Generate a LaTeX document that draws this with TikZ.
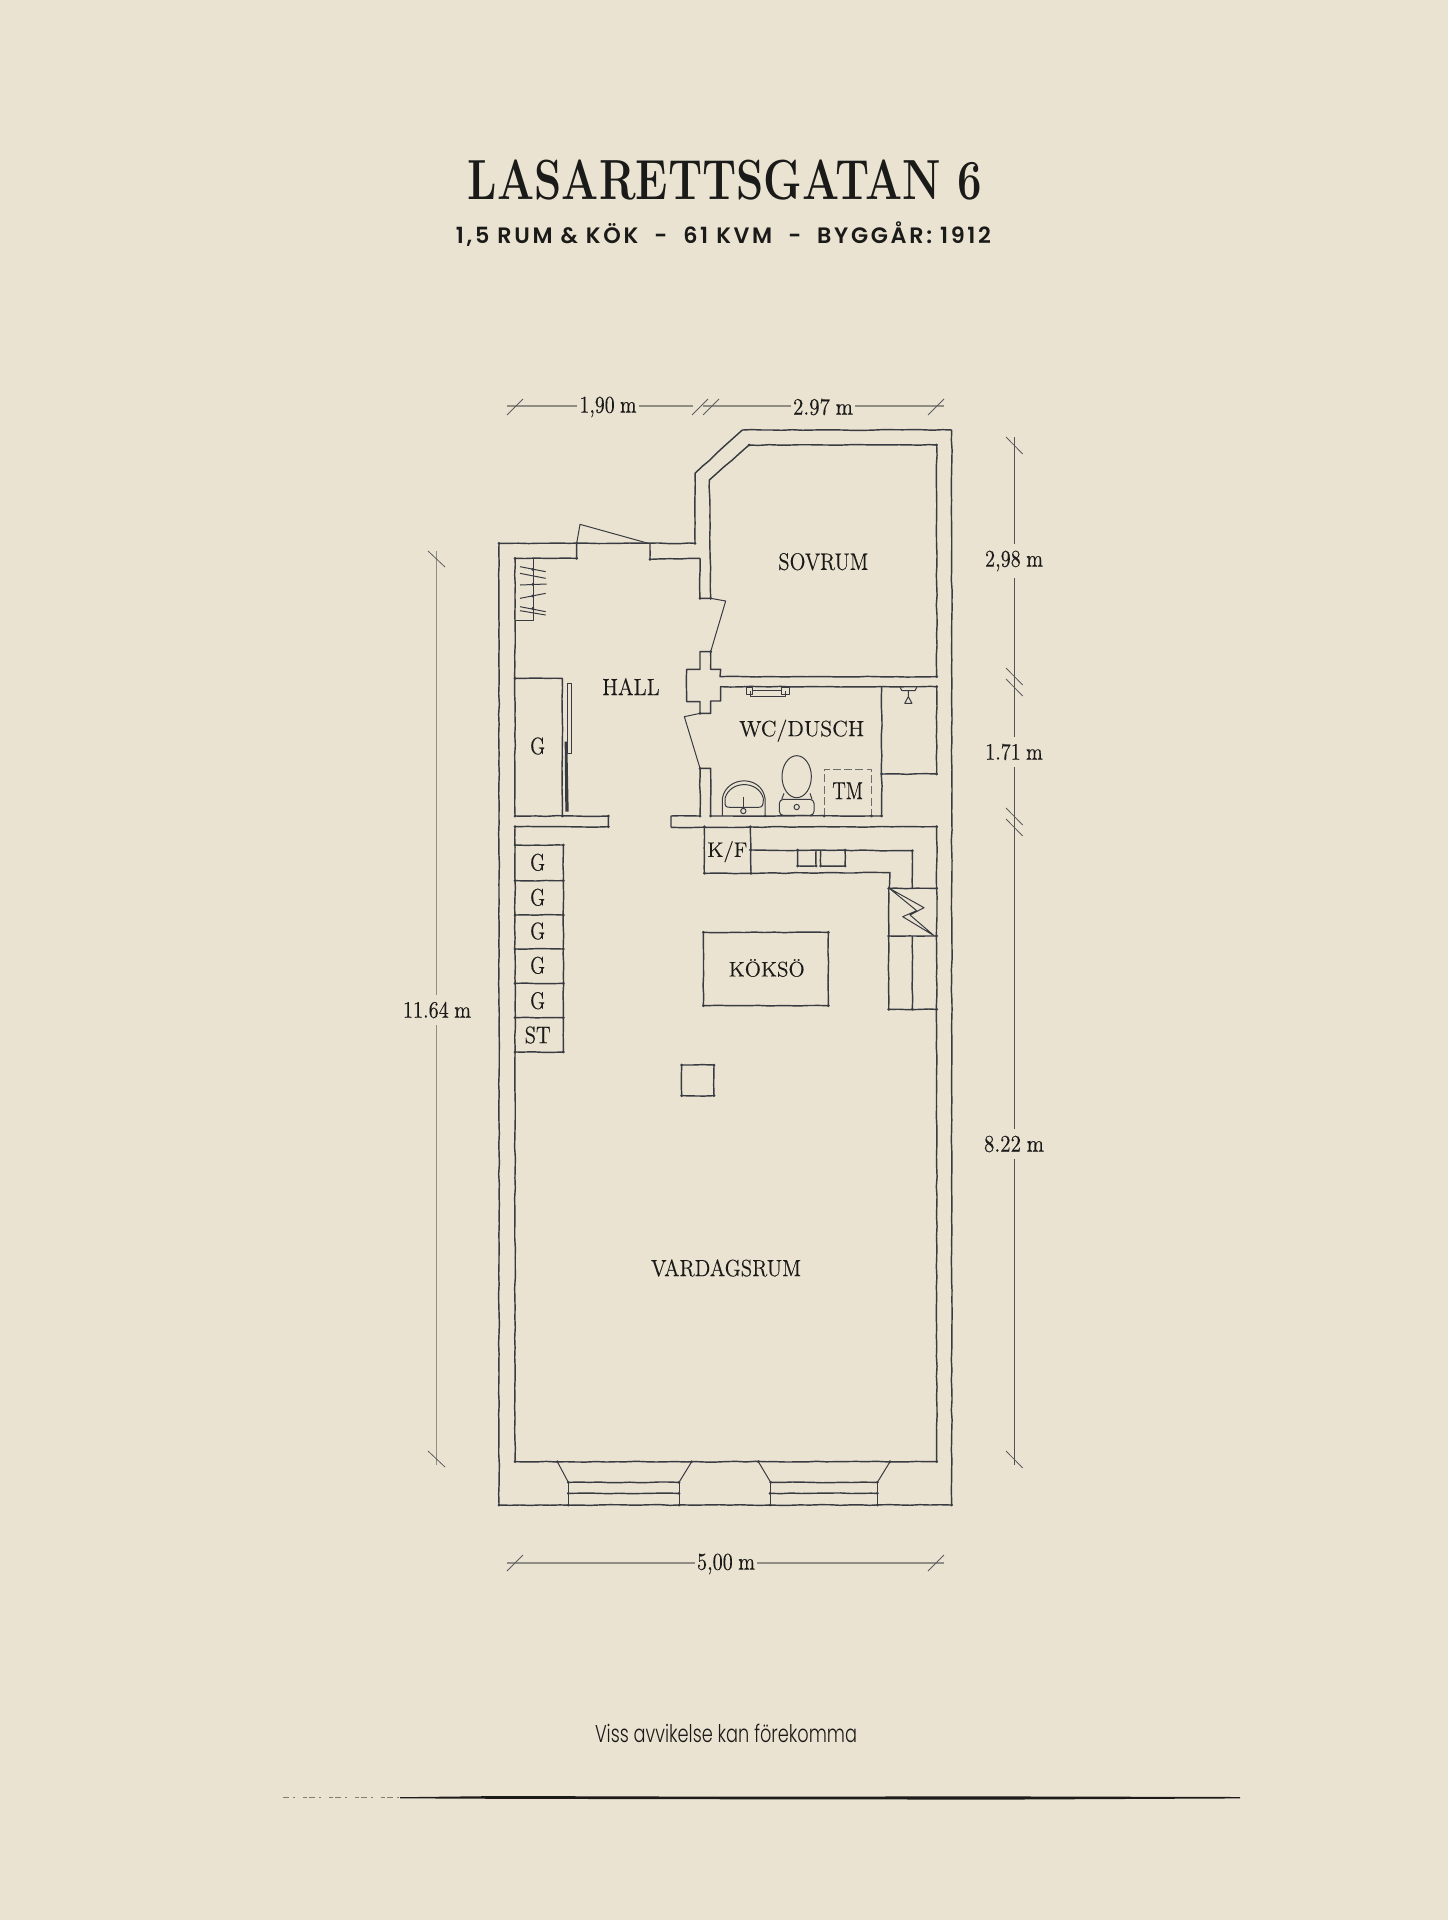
\documentclass[tikz,border=0pt]{standalone}
\usepackage{fontspec}
\usepackage{graphicx}
\usetikzlibrary{decorations.pathmorphing}
\setmainfont[FakeBold=0.25]{Latin Modern Roman}
\newfontfamily\titlef{Latin Modern Roman}
\newfontfamily\subf[LetterSpace=12]{Poppins SemiBold}
\newfontfamily\footf{Poppins Light}
\definecolor{paper}{HTML}{EBE3D2}
\definecolor{ink}{HTML}{383B42}
\definecolor{txt}{HTML}{1A1A18}
\definecolor{dimc}{HTML}{908D84}
\pgfmathsetseed{1912}
\tikzset{
  z1/.style={shift={(480,400)},x=0.166667pt,y=-0.166667pt},
  z2/.style={shift={(480,800)},x=0.166667pt,y=-0.166667pt},
  z3/.style={shift={(480,1420)},x=0.166667pt,y=-0.166667pt},
  wall/.style={draw=ink,line width=0.72pt,line join=round,decorate,decoration={random steps,segment length=5pt,amplitude=0.2pt,pre length=0.5pt,post length=0.5pt}},
  fine/.style={draw=ink,line width=0.5pt,line join=round},
  dimline/.style={draw=dimc,line width=0.6pt},
  dimdark/.style={draw=ink!85!paper,line width=0.45pt},
  tick/.style={draw=ink!80!paper,line width=0.4pt},
  room/.style={text=txt,inner sep=0pt,font=\fontsize{11.6pt}{12pt}\selectfont},
  dimtext/.style={text=txt,inner xsep=1.2pt,inner ysep=3.5pt,fill=paper,font=\fontsize{11pt}{12pt}\selectfont},
}
\newcommand{\pts}[1]{\foreach \p in {#1}{\fill[ink] \p circle[radius=0.75pt];}}
\newcommand{\rl}[2]{\resizebox{#1pt}{8.4pt}{#2}}
\newcommand{\dl}[2]{\resizebox{#1pt}{8pt}{#2}}
\begin{document}
\begin{tikzpicture}[x=0.5pt,y=-0.5pt]
\useasboundingbox (0,0) rectangle (1448,1920);
\fill[paper] (0,0) rectangle (1448,1920);
% heading
\node[text=txt,inner sep=0pt,anchor=base] (title) at (725,200) {\resizebox{257pt}{19.8pt}{\titlef\bfseries\fontsize{28.5pt}{30pt}\selectfont LASARETTSGATAN 6}};
\node[text=txt,inner sep=0pt,anchor=base] (subtitle) at (723.5,244) {\resizebox{267.5pt}{!}{\subf\fontsize{11pt}{12pt}\selectfont 1,5 RUM \& KÖK\ \ -\ \ 61 KVM\ \ -\ \ BYGGÅR: 1912}};
\node[text=txt,inner sep=0pt,anchor=base] (footer) at (726,1742) {\resizebox{131pt}{9.2pt}{\footf\fontsize{11pt}{12pt}\selectfont Viss avvikelse kan förekomma}};
% rule
\fill[black!88!paper] (400,1797.2) -- (500,1796) -- (700,1796.6) -- (1000,1796.4) -- (1240,1797) -- (1240,1798.4) -- (1000,1799.6) -- (700,1799.2) -- (500,1798.8) -- (400,1798.3) -- cycle;
\draw[black!45!paper,line width=0.5pt,dash pattern=on 3pt off 2pt on 1pt off 4pt on 2pt off 1pt] (283,1797.5) -- (400,1797.5);
% dimensions
\draw[dimline] (507,406) -- (693,406);
\draw[dimline] (703,406) -- (944,406);
\draw[dimline] (507,1563) -- (944,1563);
\draw[dimline] (436.7,551) -- (436.7,1465);
\draw[dimdark] (1014.3,437) -- (1014.3,1465);
\foreach \x in {507,692,703,928}{\draw[tick] (\x,415) -- (\x+16,399);}
\foreach \x in {507,928}{\draw[tick] (\x,1571) -- (\x+16,1555);}
\foreach \y in {551,1451}{\draw[tick] (428,\y) -- (445,\y+16);}
\foreach \y in {437,668,679,808,819,1451}{\draw[tick] (1006,\y) -- (1022.7,\y+17);}
\node[dimtext] (d190) at (608,407) {\dl{28.5}{1,90\kern3pt m}};
\node[dimtext] (d297) at (823,407) {\dl{30}{2.97\kern3pt m}};
\node[dimtext] (d500) at (726,1564) {\dl{29}{5,00\kern3pt m}};
\node[dimtext] (d1164) at (437,1010) {\dl{34}{11.64\kern3pt m}};
\node[dimtext] (d298) at (1014,561) {\dl{29}{2,98\kern3pt m}};
\node[dimtext] (d171) at (1014,752) {\dl{28.7}{1.71\kern3pt m}};
\node[dimtext] (d822) at (1014,1144) {\dl{30}{8.22\kern3pt m}};
% upper part
\begin{scope}[z1]
\draw[wall] (57,3315) -- (57,430) -- (645,430) -- (645,220) -- (787,90) -- (1415,90) -- (1415,3315);
\draw[wall] (105,1248) -- (105,475) -- (290,475) -- (290,430);
\draw[wall] (510,430) -- (510,478) -- (660,475) -- (660,595) -- (692,595);
\draw[wall] (692,755) -- (660,755) -- (660,808) -- (620,808) -- (620,905) -- (660,905) -- (660,940) -- (692,940) -- (692,903) -- (722,903) -- (722,860) -- (1370,860) -- (1370,1122) -- (1205,1122);
\draw[wall] (692,595) -- (688,240) -- (807,135) -- (1370,135) -- (1370,830) -- (720,830) -- (722,808) -- (692,808) -- (692,755);
\draw[fine] (692,595) -- (737,603) -- (692,755);
\draw[fine] (660,940) -- (613,950) -- (660,1105);
\draw[wall] (660,1248) -- (660,1105) -- (692,1105) -- (692,1248) -- (1205,1248) -- (1205,860);
\draw[wall] (660,1248) -- (573,1248) -- (573,1282);
\draw[fine] (290,430) -- (300,373) -- (505,430);
% wardrobe
\draw[wall] (105,835) -- (247,835) -- (247,1248);
\draw[wall] (105,1248) -- (385,1248) -- (385,1280) -- (105,1280);
\draw[fine] (262,850) -- (262,1060) -- (275,1060) -- (275,850) -- cycle;
\fill[ink] (254,1025) -- (262,1025) -- (266,1235) -- (256,1235) -- cycle;
% shelf
\draw[fine] (160,475) -- (160,662) -- (105,662);
\draw[fine] (120,500) -- (197,515) (120,520) -- (197,535) (120,555) -- (200,552) (120,595) -- (197,580) (120,620) -- (197,635) (120,632) -- (197,645);
% bathroom fixtures
\draw[fine] (800,862) rectangle (818,882) (905,862) rectangle (928,882) (810,872) -- (810,888) -- (915,888) -- (915,872) (818,870) -- (905,870);
\draw[fine] (1260,862) -- (1266,872) -- (1305,872) -- (1310,862) (1285,872) -- (1285,890);
\draw[fine] (1285,890) -- (1274,910) -- (1296,910) -- cycle;
\draw[fine] (727,1248) -- (727,1195) .. controls (740,1125) and (845,1125) .. (855,1195) -- (855,1248);
\draw[fine] (735,1195) .. controls (750,1140) and (835,1140) .. (850,1195);
\draw[fine] (735,1195) -- (735,1212) .. controls (736,1222) and (745,1222) .. (750,1222) -- (835,1222) .. controls (848,1222) and (850,1215) .. (850,1195);
\draw[fine] (790,1190) -- (790,1225);
\draw[fine] (790,1233) circle[radius=8];
\draw[fine] (950,1130) ellipse[x radius=44,y radius=63];
\draw[fine] (912,1180) -- (905,1198) (990,1180) -- (996,1198);
\draw[fine,rounded corners=2pt] (898,1198) rectangle (1002,1246);
\draw[fine] (950,1221) circle[radius=8];
\draw[fine,draw=ink!70!paper,dash pattern=on 4pt off 1.6pt] (1032,1248) -- (1032,1107) -- (1175,1107) -- (1175,1248);
\pts{(57,430),(290,430),(290,475),(105,475),(645,430),(510,478),(660,595),(692,595),(692,755),(1370,135),(807,135),(1370,830),(1370,860),(1370,1122),(1205,1122),(105,835),(105,1248),(247,1248),(385,1280),(385,1248),(660,1105),(660,1248),(692,1248),(855,1248),(1032,1248),(1175,1248),(1205,1248),(158,508),(158,553),(158,588),(158,625),(660,940)}
\node[room] (hall) at (453,860) {\rl{28.7}{HALL}};
\node[room] (sovrum) at (1030,485) {\rl{45}{SOVRUM}};
\node[room] (wc) at (965,992) {\resizebox{62.5pt}{!}{WC/DUSCH}};
\node[room] (tm) at (1103,1172) {\rl{15.4}{TM}};
\node[room] (gbig) at (173,1038) {\rl{7.5}{G}};
\end{scope}
% kitchen part
\begin{scope}[z2]
\draw[wall] (573,82) -- (1370,80) -- (1370,1985);
\draw[wall] (105,80) -- (105,1985);
\draw[wall] (673,80) -- (673,220) -- (1230,218) -- (1228,265);
\draw[wall] (811,80) -- (813,220);
\draw[wall] (811,150) -- (1297,152) -- (1297,265);
\draw[wall] (953,150) -- (953,198) -- (1008,198) -- (1008,150);
\draw[wall] (1022,150) -- (1022,198) -- (1095,198) -- (1095,150);
\draw[wall] (1370,265) -- (1226,265) -- (1226,628) -- (1370,628);
\draw[wall] (1226,408) -- (1370,408);
\draw[wall] (1297,408) -- (1297,628);
\draw[fine] (1228,265) -- (1332,323) -- (1290,345) -- (1362,407) -- (1268,350) -- (1310,332) -- cycle;
\draw[wall] (670,397) -- (1045,397) -- (1045,617) -- (670,617) -- cycle;
\draw[wall] (105,135) -- (250,135) -- (250,756) -- (105,756);
\foreach \y in {242,345,447,550,653}{\draw[wall] (105,\y) -- (250,\y);}
\draw[wall] (605,795) -- (702,795) -- (702,887) -- (605,887) -- cycle;
\pts{(105,80),(673,80),(811,80),(1370,80),(811,150),(673,220),(813,220),(1297,152),(1226,265),(1370,265),(1226,408),(1370,408),(1226,628),(1297,628),(1370,628),(670,397),(1045,397),(1045,617),(670,617),(605,795),(702,795),(605,887),(702,887),(105,135),(250,135),(105,242),(250,242),(105,345),(250,345),(105,447),(250,447),(105,550),(250,550),(105,653),(250,653),(105,756),(250,756),(953,198),(1008,198),(1022,198),(1095,198),(953,150),(1095,150)}
\node[room] (kf) at (742,155) {\resizebox{20pt}{!}{K/F}};
\node[room] (kokso) at (860,504) {\resizebox{38pt}{!}{KÖKSÖ}};
\foreach \n/\y in {a/187,b/292,c/393,d/496,e/602}{\node[room] (g\n) at (173,\y) {\rl{7.5}{G}};}
\node[room] (st) at (173,705) {\rl{13}{ST}};
\end{scope}
% bottom part
\begin{scope}[z3]
\draw[wall] (105,125) -- (1370,125);
\draw[wall] (57,255) -- (1415,255);
\draw[fine] (232,125) -- (265,187) (597,187) -- (635,125) (835,125) -- (872,187) (1192,187) -- (1230,125);
\draw[wall] (265,187) -- (597,187);
\draw[wall] (265,220) -- (597,220);
\draw[wall] (872,187) -- (1192,187);
\draw[wall] (870,220) -- (1192,220);
\draw[fine] (265,187) -- (265,255) (597,187) -- (597,255) (870,187) -- (870,255) (1192,187) -- (1192,255);
\pts{(57,255),(1415,255),(105,125),(1370,125),(265,187),(597,187),(872,187),(1192,187),(265,220),(597,220),(870,220),(1192,220),(265,255),(597,255),(870,255),(1192,255),(232,125),(635,125),(835,125),(1230,125)}
\end{scope}
\node[room] (vard) at (726,1268) {\rl{75}{VARDAGSRUM}};
\end{tikzpicture}
\end{document}
